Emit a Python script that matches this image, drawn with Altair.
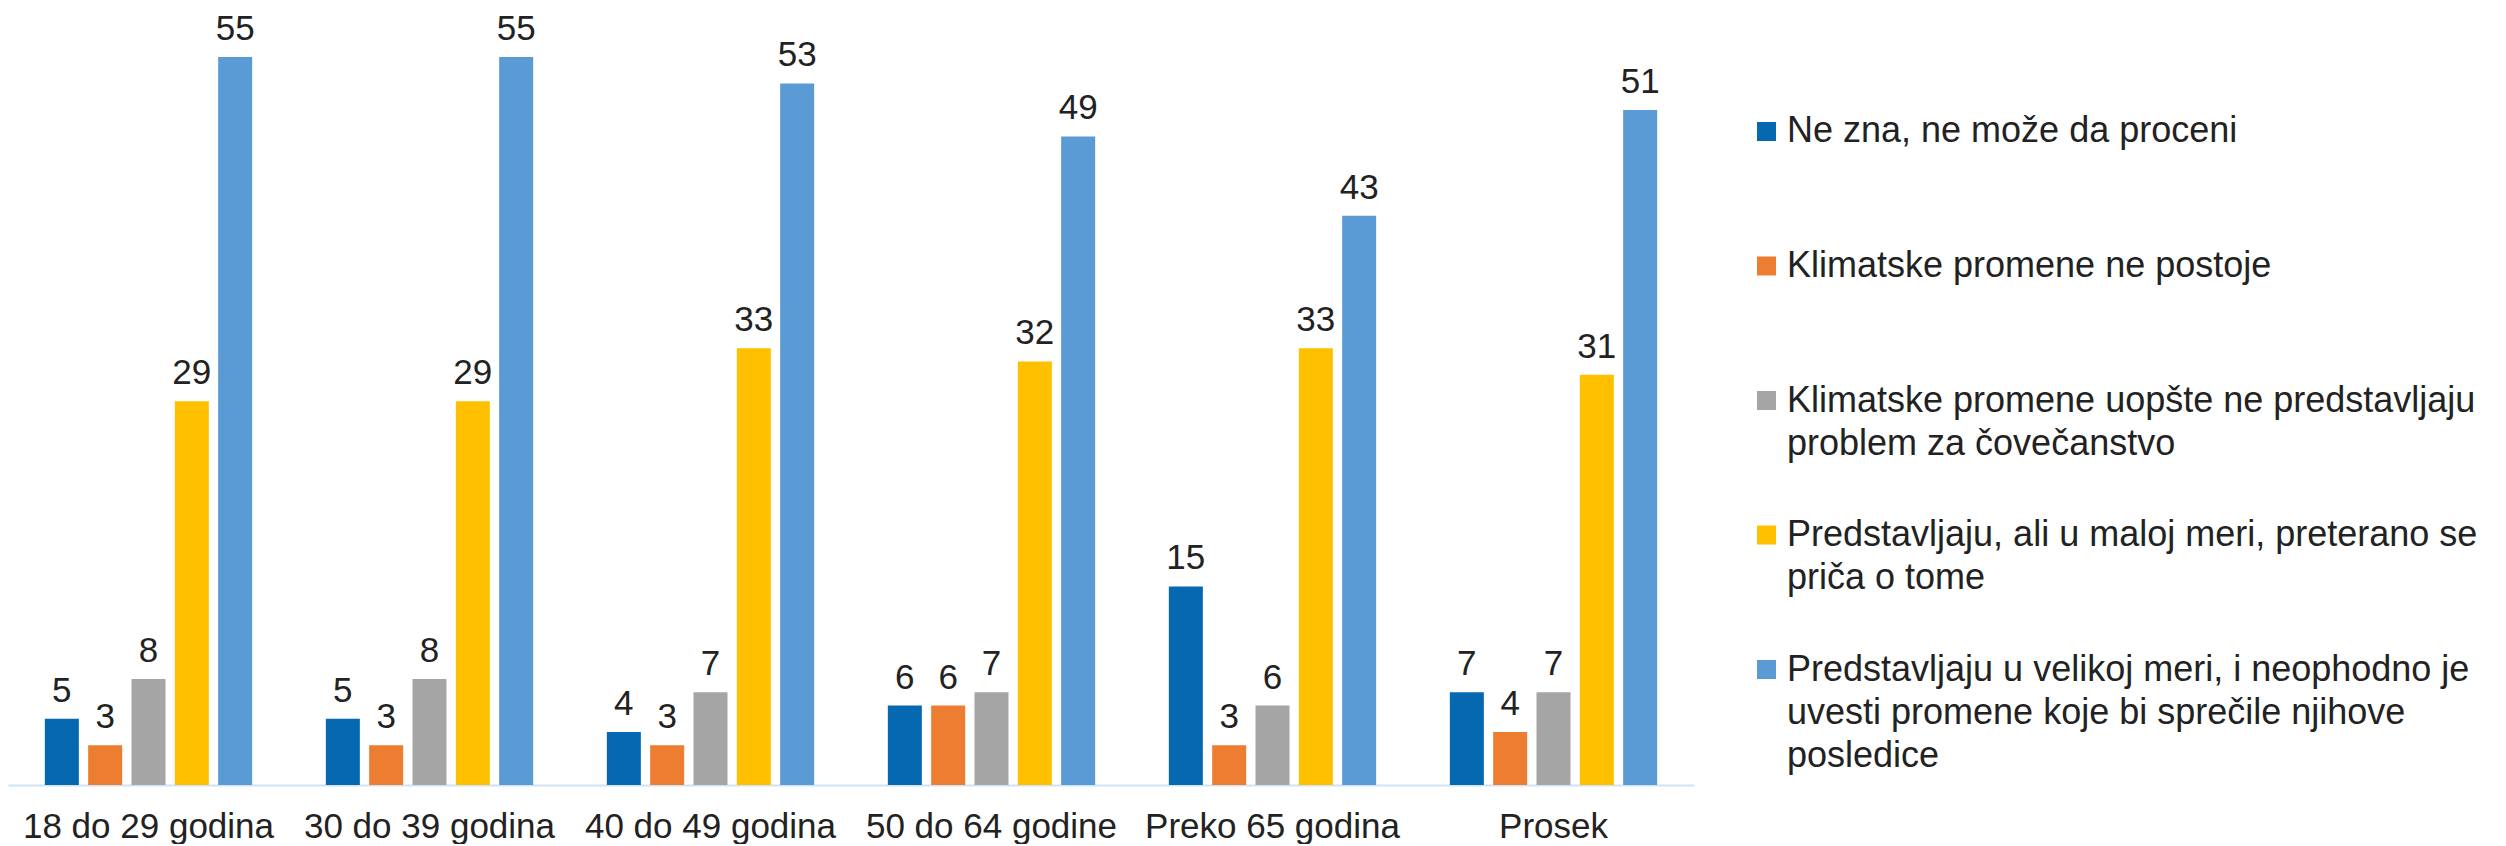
import altair as alt
import pandas as pd

categories = ["18 do 29 godina", "30 do 39 godina", "40 do 49 godina",
              "50 do 64 godine", "Preko 65 godina", "Prosek"]
series = [
    "Ne zna, ne može da proceni",
    "Klimatske promene ne postoje",
    "Klimatske promene uopšte ne predstavljaju problem za čovečanstvo",
    "Predstavljaju, ali u maloj meri, preterano se priča o tome",
    "Predstavljaju u velikoj meri, i neophodno je uvesti promene koje bi sprečile njihove posledice",
]
legend_lines = [
    ["Ne zna, ne može da proceni"],
    ["Klimatske promene ne postoje"],
    ["Klimatske promene uopšte ne predstavljaju", "problem za čovečanstvo"],
    ["Predstavljaju, ali u maloj meri, preterano se", "priča o tome"],
    ["Predstavljaju u velikoj meri, i neophodno je", "uvesti promene koje bi sprečile njihove", "posledice"],
]
colors = ["#0568B0", "#ED7D31", "#A5A5A5", "#FFC000", "#5B9BD5"]

ne_zna = [5, 5, 4, 6, 15, 7]
ne_postoje = [3, 3, 3, 6, 3, 4]
ne_problem = [8, 8, 7, 7, 6, 7]
mala_mera = [29, 29, 33, 32, 33, 31]
velika_mera = [55, 55, 53, 49, 43, 51]

values = [ne_zna, ne_postoje, ne_problem, mala_mera, velika_mera]
rows = []
for s, vals in zip(series, values):
    for c, v in zip(categories, vals):
        rows.append({"cat": c, "series": s, "value": v})
df = pd.DataFrame(rows)

color_scale = alt.Scale(domain=series, range=colors)
FONT = "Liberation Sans"
TXT = "#222222"

base = alt.Chart(df).encode(
    x=alt.X("cat:N", sort=categories,
            scale=alt.Scale(paddingInner=0, paddingOuter=0),
            axis=alt.Axis(title=None, labelAngle=0, ticks=False, tickSize=0,
                          labelFontSize=35, labelFont=FONT, labelColor=TXT,
                          labelBaseline="alphabetic", labelPadding=52,
                          labelLimit=600, labelOverlap=False,
                          domainColor="#CFE3F6", domainWidth=2, grid=False)),
    xOffset=alt.XOffset("series:N", sort=series,
                        scale=alt.Scale(paddingInner=0.215, paddingOuter=0.85)),
    y=alt.Y("value:Q", scale=alt.Scale(domain=[0, 58.7], nice=False, zero=True),
            axis=None),
)

bars = base.mark_bar().encode(
    color=alt.Color("series:N", scale=color_scale, legend=None)
)
labels = base.mark_text(baseline="alphabetic", dy=-17, fontSize=35, font=FONT,
                        color=TXT).encode(text=alt.Text("value:Q"))

main = (bars + labels).properties(width=1686, height=777)

leg_df = pd.DataFrame({"series": series, "label": legend_lines})
leg_base = alt.Chart(leg_df).encode(
    y=alt.Y("series:N", sort=series,
            scale=alt.Scale(type="point", padding=0.918), axis=None)
)
squares = leg_base.mark_square(size=361, opacity=1).encode(
    x=alt.value(9.5),
    color=alt.Color("series:N", scale=color_scale, legend=None),
)
leg_text = leg_base.mark_text(align="left", baseline="alphabetic", dy=11,
                              fontSize=36, lineHeight=43, font=FONT,
                              color=TXT).encode(
    x=alt.value(30), text="label"
)
legend = (squares + leg_text).properties(width=720, height=785)

chart = alt.hconcat(main, legend, spacing=63).properties(
    padding=0
).configure(font=FONT).configure_view(stroke=None)

chart.save("out.html", embed_options={"renderer": "svg", "actions": False})
